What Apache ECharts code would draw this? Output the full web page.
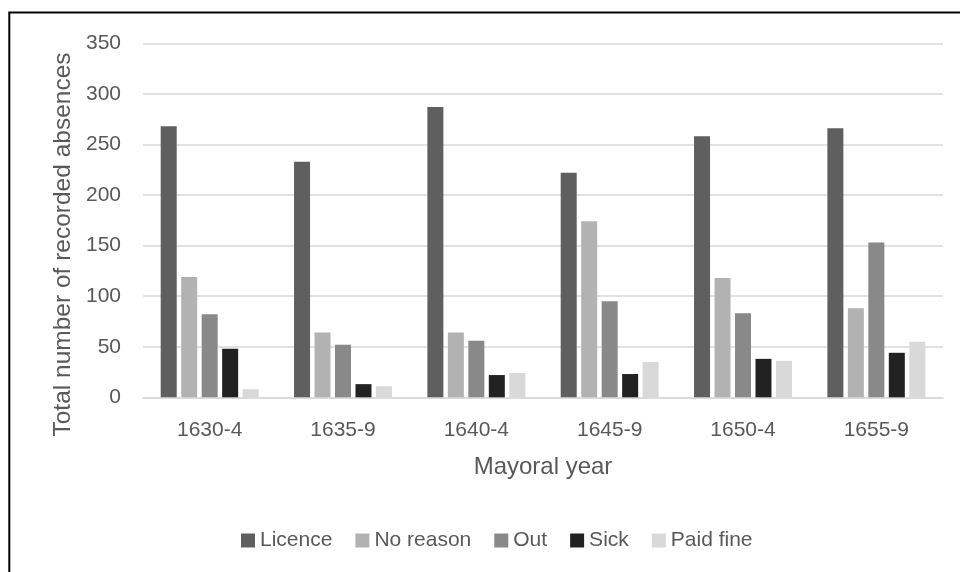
<!DOCTYPE html>
<html>
<head>
<meta charset="utf-8">
<script src="https://cdn.jsdelivr.net/npm/echarts@6/dist/echarts.min.js"></script>
<style>
html,body{margin:0;padding:0;background:#fff;}
#chart{width:960px;height:572px;}
</style>
</head>
<body>
<div id="chart"></div>
<script>
const categories = ['1630-4', '1635-9', '1640-4', '1645-9', '1650-4', '1655-9'];
const seriesNames = ['Licence', 'No reason', 'Out', 'Sick', 'Paid fine'];
const licence  = [268, 233, 287, 222, 258, 266];
const noReason = [119, 64, 64, 174, 118, 88];
const out      = [82, 52, 56, 95, 83, 153];
const sick     = [48, 13, 22, 23, 38, 44];
const paidFine = [8, 11, 24, 35, 36, 55];
const yTicks = [0, 50, 100, 150, 200, 250, 300, 350];
const colors = ['#5f5f5f', '#b2b2b2', '#898989', '#222222', '#d9d9d9'];

const values = [licence, noReason, out, sick, paidFine];
const FONT = '"Liberation Sans", Arial, sans-serif';
const TXT = '#595959';

const chart = echarts.init(document.getElementById('chart'), null, {renderer: 'canvas'});
chart.setOption({
  animation: false,
  backgroundColor: '#fff',
  textStyle: {fontFamily: FONT},
  grid: {left: 143, right: 17, top: 43.3, bottom: 174.7, containLabel: false},
  legend: {
    data: seriesNames,
    left: 236,
    top: 525,
    icon: 'rect',
    itemWidth: 14,
    itemHeight: 14,
    itemGap: 23,
    textStyle: {fontFamily: FONT, fontSize: 21, color: TXT}
  },
  xAxis: {
    type: 'category',
    data: categories,
    axisTick: {show: false},
    axisLine: {show: true, lineStyle: {color: '#d9d9d9', width: 1.5}},
    axisLabel: {fontFamily: FONT, fontSize: 21, color: TXT, margin: 22},
    name: 'Mayoral year',
    nameLocation: 'middle',
    nameGap: 58,
    nameTextStyle: {fontFamily: FONT, fontSize: 24, color: TXT}
  },
  yAxis: {
    type: 'value',
    min: yTicks[0],
    max: yTicks[yTicks.length - 1],
    interval: yTicks[1] - yTicks[0],
    axisLine: {show: false},
    axisTick: {show: false},
    splitLine: {lineStyle: {color: '#d9d9d9', width: 1.5}},
    axisLabel: {fontFamily: FONT, fontSize: 21, color: TXT, margin: 22}
  },
  graphic: [
    {
      type: 'rect',
      shape: {x: 9.3, y: 12.4, width: 2000, height: 2000},
      style: {fill: 'none', stroke: '#000', lineWidth: 2},
      silent: true
    },
    {
      type: 'text',
      x: 63,
      y: 244.5,
      rotation: Math.PI / 2,
      style: {
        text: 'Total number of recorded absences',
        fontFamily: FONT,
        fontSize: 24.5,
        fill: TXT,
        align: 'center',
        verticalAlign: 'middle'
      },
      silent: true
    }
  ],
  series: seriesNames.map((n, i) => ({
    name: n,
    type: 'bar',
    data: values[i],
    barWidth: 16,
    barGap: '28%',
    itemStyle: {color: colors[i]}
  }))
});
</script>
</body>
</html>
